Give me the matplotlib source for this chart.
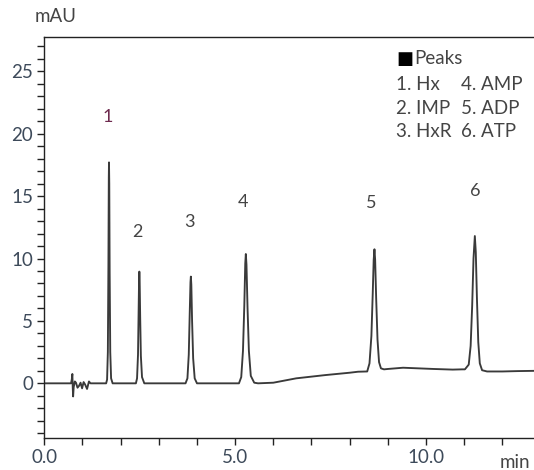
import matplotlib
matplotlib.use("Agg")
import matplotlib.pyplot as plt
from matplotlib.ticker import MultipleLocator, FormatStrFormatter

plt.rcParams['font.family'] = ['Lato', 'DejaVu Sans']

# trace (time in min, signal in mAU)
t_noise = [0.0, 0.70, 0.72, 0.735, 0.745, 0.755, 0.77, 0.80, 0.83, 0.87, 0.91, 0.95,
           0.99, 1.03, 1.07, 1.12, 1.17, 1.21, 1.30]
y_noise = [0.0, 0.0, 0.3, 0.75, -0.3, -1.05, -0.3, 0.15, 0.05, -0.35, -0.2, 0.05,
           -0.4, 0.1, -0.1, -0.45, 0.15, 0.0, 0.0]

t_hx = [1.62, 1.645, 1.665, 1.68, 1.69, 1.695, 1.702, 1.712, 1.728, 1.75, 1.79]
y_hx = [0.0, 0.3, 2.5, 9.5, 16.5, 17.7, 16.0, 9.0, 2.5, 0.4, 0.0]

t_imp = [2.40, 2.43, 2.455, 2.47, 2.483, 2.49, 2.498, 2.512, 2.53, 2.56, 2.62]
y_imp = [0.0, 0.4, 2.3, 5.5, 8.3, 8.95, 8.3, 5.3, 2.2, 0.5, 0.0]

t_hxr = [3.70, 3.75, 3.785, 3.81, 3.83, 3.84, 3.852, 3.872, 3.90, 3.94, 4.00]
y_hxr = [0.0, 0.4, 2.3, 5.6, 8.1, 8.55, 7.9, 5.0, 2.0, 0.4, 0.0]

t_amp = [5.10, 5.16, 5.205, 5.24, 5.265, 5.28, 5.297, 5.325, 5.36, 5.41, 5.50, 5.60]
y_amp = [0.0, 0.5, 2.6, 6.2, 9.6, 10.36, 9.5, 6.0, 2.6, 0.6, 0.05, 0.0]

t_drift1 = [6.0, 6.6, 7.36, 8.0, 8.22]
y_drift1 = [0.05, 0.4, 0.66, 0.85, 0.93]

t_adp = [8.46, 8.52, 8.57, 8.605, 8.63, 8.65, 8.668, 8.695, 8.73, 8.77, 8.82, 8.90]
y_adp = [0.95, 1.6, 3.8, 7.2, 9.9, 10.74, 9.9, 6.8, 3.5, 1.7, 1.2, 1.12]

t_drift2 = [9.0, 9.4, 9.8, 10.2, 10.7, 10.95]
y_drift2 = [1.15, 1.25, 1.2, 1.15, 1.1, 1.12]

t_atp = [11.02, 11.12, 11.17, 11.21, 11.245, 11.28, 11.305, 11.335, 11.37, 11.41, 11.47]
y_atp = [1.12, 1.5, 3.0, 6.2, 10.0, 11.8, 10.5, 6.8, 3.3, 1.6, 1.05]

t_tail = [11.6, 12.0, 12.4, 12.83]
y_tail = [0.95, 0.95, 0.98, 1.0]

peak_ids = ['1', '2', '3', '4', '5', '6']
peak_lab_x = [1.67, 2.45, 3.79, 5.21, 8.56, 11.28]
peak_lab_y = [21.3, 12.1, 12.9, 14.5, 14.45, 15.4]
peak_names = ['Hx', 'IMP', 'HxR', 'AMP', 'ADP', 'ATP']

t = t_noise + t_hx + t_imp + t_hxr + t_amp + t_drift1 + t_adp + t_drift2 + t_atp + t_tail
y = y_noise + y_hx + y_imp + y_hxr + y_amp + y_drift1 + y_adp + y_drift2 + y_atp + y_tail

W, H = 534, 470
fig = plt.figure(figsize=(W / 100, H / 100), dpi=100)
ax = fig.add_axes([44.3 / W, 1 - 438 / H, 1 - 44.3 / W, (438 - 36.7) / H])

ax.plot(t, y, color='#3a3a3a', lw=1.35)

ax.set_xlim(0, 12.83)
ax.set_ylim(-4.38, 27.77)
ax.spines['right'].set_visible(False)
for s in ['left', 'bottom', 'top']:
    ax.spines[s].set_linewidth(1.0)
    ax.spines[s].set_color('#222222')

ax.xaxis.set_major_locator(MultipleLocator(5))
ax.xaxis.set_minor_locator(MultipleLocator(1))
ax.yaxis.set_major_locator(MultipleLocator(5))
ax.yaxis.set_minor_locator(MultipleLocator(1))
ax.xaxis.set_major_formatter(FormatStrFormatter('%.1f'))
ax.tick_params(which='both', direction='out', length=5, width=1, color='#222222',
               labelsize=13.5, labelcolor='#3d4a5a', pad=3)
ax.tick_params(top=False, which='both')

lab_col = '#444444'
for i, (px, py) in enumerate(zip(peak_lab_x, peak_lab_y)):
    ax.text(px, py, peak_ids[i], ha='center', va='center', fontsize=13,
            color='#6e2a4e' if i == 0 else lab_col)

fig.text(56 / W, 1 - 17 / H, 'mAU', ha='center', va='center', fontsize=13.5, color=lab_col)
fig.text(515 / W, 1 - 463 / H, 'min', ha='center', va='center', fontsize=13.5, color=lab_col)

# legend block
fig.text(396 / W, 1 - 59 / H, '\u25a0', ha='left', va='center', fontsize=13,
         color='black', family=['DejaVu Sans'])
fig.text(414 / W, 1 - 59 / H, 'Peaks', ha='left', va='center', fontsize=13.5, color=lab_col)
rows_y = [85, 108, 131.5]
for i in range(3):
    fig.text(396 / W, 1 - rows_y[i] / H, f'{i + 1}. {peak_names[i]}', ha='left',
             va='center', fontsize=13.5, color=lab_col)
    fig.text(461 / W, 1 - rows_y[i] / H, f'{i + 4}. {peak_names[i + 3]}', ha='left',
             va='center', fontsize=13.5, color=lab_col)

fig.savefig('out.png', dpi=100)
